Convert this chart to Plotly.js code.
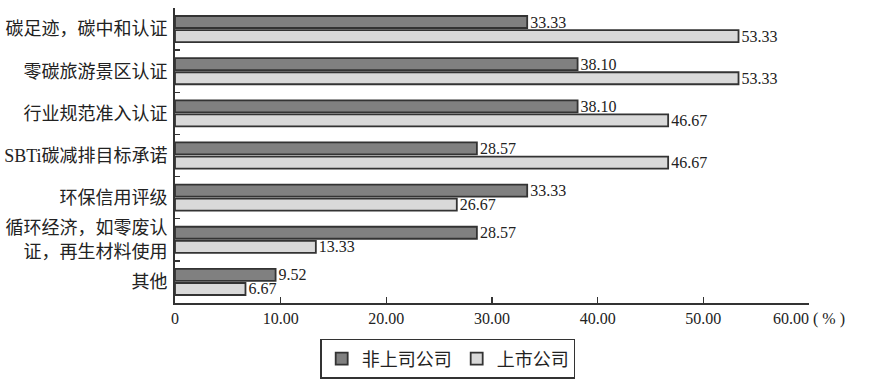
<!DOCTYPE html>
<html><head><meta charset="utf-8">
<script src="https://cdn.plot.ly/plotly-3.0.1.min.js"></script>
<style>html,body{margin:0;padding:0;background:#fff}</style>
</head><body><div id="chart" style="width:874px;height:387px"></div>
<script>
const categories = ["碳足迹，碳中和认证","零碳旅游景区认证","行业规范准入认证","SBTi碳减排目标承诺","环保信用评级","循环经济，如零废认<br>证，再生材料使用","其他"];
const seriesNames = ["非上司公司","上市公司"];
const unlisted = [33.33,38.10,38.10,28.57,33.33,28.57,9.52];
const listed = [53.33,53.33,46.67,46.67,26.67,13.33,6.67];
const xTickVals = [0,10,20,30,40,50,60];
const xTickText = ["0","10.00","20.00","30.00","40.00","50.00","60.00 ( % )"];

const FONT = '"Liberation Serif", "Noto Sans CJK SC", serif';
const lineC = '#333333';
function tr(name, vals, color){
  return {type:'bar', orientation:'h', name:name, y:categories, x:vals,
    marker:{color:color, line:{color:lineC, width:1.8}},
    text: vals.map(v=>v.toFixed(2)), textposition:'outside', cliponaxis:false, constraintext:'none',
    textfont:{family:FONT, size:16, color:'#222'}, hoverinfo:'none'};
}
const data = [tr(seriesNames[0], unlisted, '#808080'), tr(seriesNames[1], listed, '#d9d9d9')];
const layout = {
  width:874, height:387, margin:{l:175,r:65,t:8,b:76},
  paper_bgcolor:'#fff', plot_bgcolor:'#fff',
  barmode:'group', bargap:0.33, bargroupgap:0.15,
  font:{family:FONT, color:'#222'},
  xaxis:{range:[0,60], tickvals:xTickVals, ticktext:xTickText, ticks:'inside', ticklen:6, tickwidth:1.5, tickcolor:lineC,
    showline:true, linecolor:lineC, linewidth:1.8, showgrid:false, zeroline:false,
    tickfont:{family:FONT, size:16, color:'#222'}},
  yaxis:{type:'category', autorange:'reversed', ticks:'inside', tickson:'boundaries', ticklen:5, tickwidth:1.5, tickcolor:lineC,
    showline:true, linecolor:lineC, linewidth:1.8, showgrid:false, zeroline:false,
    tickfont:{family:FONT, size:18, color:'#222'}, ticklabelstandoff:2},
  showlegend:true,
  legend:{orientation:'h', x:0.229, xanchor:'left', y:-0.122, yanchor:'top', bordercolor:lineC, borderwidth:1.5,
    font:{family:FONT, size:18, color:'#222'}, traceorder:'normal', itemwidth:30, tracegroupgap:0},
};
Plotly.newPlot('chart', data, layout, {displayModeBar:false, staticPlot:true});
</script></body></html>
